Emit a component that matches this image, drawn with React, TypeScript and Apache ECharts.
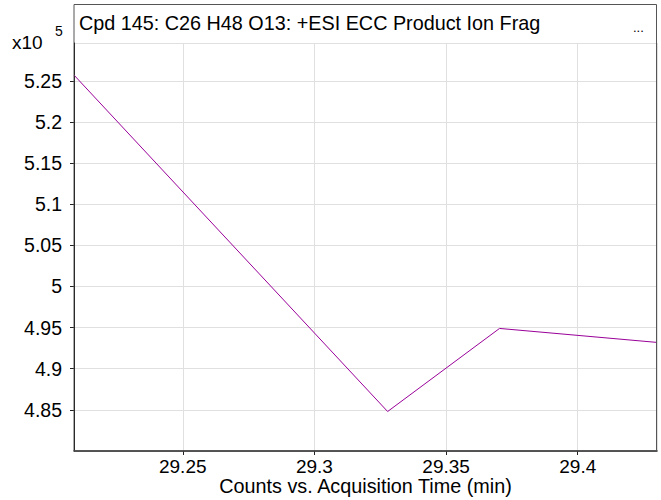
import React, { useEffect, useRef } from "react";
import * as echarts from "echarts";

// Acquisition time (min) and counts (x10^5)
const times = [29.2087, 29.3278, 29.3703, 29.4301];
const counts = [5.257, 4.848, 4.949, 4.932];
const titleText = "Cpd 145: C26 H48 O13: +ESI ECC Product Ion Frag";
const xAxisName = "Counts vs. Acquisition Time (min)";
const yExponent = "5";

const FONT = "'Liberation Sans', Arial, sans-serif";

export default function App() {
  const ref = useRef<HTMLDivElement>(null);
  useEffect(() => {
    if (!ref.current) return;
    const chart = echarts.init(ref.current, null, { renderer: "svg" });
    const isTick = (v: number) => Math.abs(v * 20 - Math.round(v * 20)) < 1e-6;
    const fmt = (v: number) => (isTick(v) ? String(+v.toFixed(2)) : "");
    chart.setOption({
      animation: false,
      backgroundColor: "#fff",
      grid: {
        left: 74,
        right: 4,
        top: 43,
        bottom: 49,
        containLabel: false,
        outerBoundsMode: "none",
      },
      xAxis: {
        type: "value",
        min: 29.2087,
        max: 29.4301,
        name: xAxisName,
        nameLocation: "middle",
        nameGap: 26,
        nameMoveOverlap: false,
        nameTextStyle: { color: "#000", fontSize: 19.8, lineHeight: 18, fontFamily: FONT },
        axisLine: { show: true, onZero: false, lineStyle: { color: "#222", width: 1.5 } },
        axisTick: { show: true, length: 4, lineStyle: { color: "#222" } },
        axisLabel: {
          color: "#000",
          fontSize: 19,
          lineHeight: 18,
          fontFamily: FONT,
          margin: 6,
          showMinLabel: false,
          showMaxLabel: false,
          formatter: fmt,
        },
        splitLine: { show: true, lineStyle: { color: "#e0e0e0", width: 1 } },
      },
      yAxis: {
        type: "value",
        min: 4.8,
        max: 5.296,
        interval: 0.05,
        axisLine: { show: true, onZero: false, lineStyle: { color: "#000", width: 1 } },
        axisTick: { show: true, length: 4, lineStyle: { color: "#222" } },
        axisLabel: {
          color: "#000",
          fontSize: 19.5,
          fontFamily: FONT,
          margin: 12,
          showMinLabel: false,
          showMaxLabel: false,
          formatter: fmt,
        },
        splitLine: { show: true, lineStyle: { color: "#e0e0e0", width: 1 } },
      },
      series: [
        {
          type: "line",
          data: times.map((t, i) => [t, counts[i]]),
          symbol: "none",
          lineStyle: { color: "#990099", width: 1 },
          clip: true,
        },
      ],
      graphic: [
        {
          type: "rect",
          shape: { x: 74, y: 4.5, width: 582.5, height: 446.5 },
          style: { fill: "none", stroke: "#555", lineWidth: 1 },
          silent: true,
          z: 10,
        },
        {
          type: "text",
          x: 79,
          y: 23,
          style: {
            text: titleText,
            fontSize: 19.8,
            fontFamily: FONT,
            fill: "#000",
            verticalAlign: "middle",
          },
          z: 11,
        },
        {
          type: "text",
          x: 633,
          y: 27,
          style: {
            text: "...",
            fontSize: 13,
            fontFamily: FONT,
            fill: "#000",
            verticalAlign: "middle",
          },
          z: 11,
        },
        {
          type: "text",
          x: 12,
          y: 42,
          style: {
            text: "x10",
            fontSize: 19,
            fontFamily: FONT,
            fill: "#000",
            verticalAlign: "middle",
          },
          z: 11,
        },
        {
          type: "text",
          x: 55,
          y: 31,
          style: {
            text: yExponent,
            fontSize: 14,
            fontFamily: FONT,
            fill: "#000",
            verticalAlign: "middle",
          },
          z: 11,
        },
      ],
    });
    return () => chart.dispose();
  }, []);
  return (
    <div
      ref={ref}
      style={{ position: "absolute", left: 0, top: 0, width: 661, height: 500, background: "#fff" }}
    />
  );
}
